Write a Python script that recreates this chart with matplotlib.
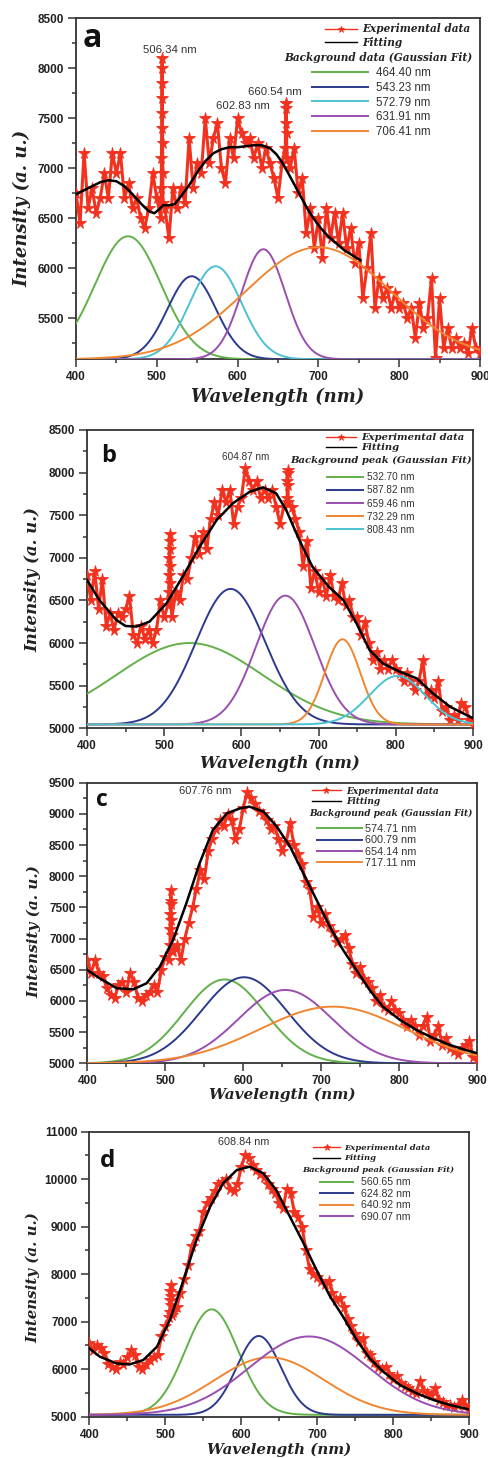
import numpy as np
import matplotlib
matplotlib.use("Agg")
import matplotlib.pyplot as plt
from matplotlib.ticker import MultipleLocator
from matplotlib.font_manager import FontProperties

# ---------------- data ----------------
grid = np.arange(400, 901, 5)

exp_a = [6750, 6450, 7150, 6600, 6800, 6550, 6700, 6950, 6700, 7150, 6950, 7150, 6700, 6850, 6600,
         6700, 6500, 6400, 6600, 6950, 6700, 6500, 6600, 6300, 6800, 6600, 6800, 6650, 7300, 6800,
         7050, 6950, 7500, 7050, 7300, 7450, 7000, 6850, 7300, 7100, 7500, 7350, 7250, 7300, 7100,
         7250, 7000, 7200, 7050, 6900, 6700, 7050, 7650, 7000, 7200, 6750, 6900, 6350, 6600, 6200,
         6500, 6100, 6600, 6300, 6550, 6250, 6550, 6200, 6400, 6050, 6250, 5700, 6000, 6350, 5600,
         5900, 5700, 5800, 5600, 5750, 5600, 5650, 5500, 5600, 5300, 5650, 5400, 5500, 5900, 5100,
         5700, 5200, 5400, 5200, 5300, 5200, 5250, 5150, 5400, 5200, 5150]
spike_a_x = [505.6, 505.8, 506.0, 506.2, 506.4, 506.6, 506.8, 507.0, 507.2, 507.4, 507.6,
             659.0, 659.4, 659.8, 660.2, 660.6, 661.0]
spike_a_y = [6800, 7100, 7400, 7700, 8000, 8100, 7850, 7550, 7250, 6950, 6650,
             7200, 7450, 7650, 7600, 7350, 7100]

exp_b = [6800, 6500, 6850, 6400, 6750, 6200, 6350, 6150, 6350, 6300, 6400, 6550, 6100, 6000, 6200,
         6050, 6150, 6000, 6150, 6500, 6300, 6450, 6300, 6600, 6500, 6800, 6750, 7000, 7250, 7050,
         7300, 7100, 7450, 7650, 7500, 7800, 7650, 7800, 7400, 7600, 7700, 8050, 7900, 7800, 7900,
         7700, 7800, 7700, 7800, 7600, 7400, 7600, 8000, 7600, 7450, 7300, 6900, 7200, 6650, 6850,
         6600, 6750, 6550, 6800, 6550, 6500, 6700, 6450, 6500, 6300, 6300, 6100, 6250, 6000, 5800,
         5900, 5700, 5800, 5700, 5800, 5700, 5650, 5550, 5650, 5550, 5450, 5550, 5800, 5400, 5450,
         5350, 5550, 5200, 5250, 5100, 5150, 5100, 5300, 5250, 5100, 5050]
spike_b_x = [506.0, 506.3, 506.6, 506.9, 507.2, 507.5, 507.8, 508.1, 508.4,
             659.2, 659.6, 660.0, 660.4, 660.8]
spike_b_y = [6600, 6800, 7000, 7200, 7280, 7100, 6900, 6700, 6500,
             7700, 7900, 8030, 7850, 7650]

exp_c = [6650, 6450, 6650, 6450, 6400, 6200, 6100, 6050, 6250, 6300, 6150, 6450, 6300, 6050, 6000,
         6100, 6150, 6250, 6150, 6500, 6700, 6650, 6800, 6900, 6650, 7000, 7250, 7500, 7800, 8100,
         7950, 8400, 8600, 8750, 8900, 8800, 9000, 8900, 8600, 8750, 9100, 9350, 9250, 9150, 9050,
         9000, 8900, 8750, 8800, 8600, 8400, 8550, 8850, 8500, 8350, 8200, 7900, 7800, 7350, 7500,
         7250, 7400, 7200, 7100, 6950, 7000, 7050, 6850, 6600, 6450, 6550, 6350, 6300, 6200, 6000,
         6100, 5900, 5850, 6000, 5850, 5800, 5700, 5600, 5700, 5600, 5450, 5600, 5750, 5350, 5450,
         5600, 5300, 5400, 5250, 5200, 5150, 5250, 5300, 5350, 5100, 5050]
spike_c_x = [506.0, 506.3, 506.6, 506.9, 507.2, 507.5, 507.8, 508.1, 508.4]
spike_c_y = [6900, 7150, 7400, 7600, 7780, 7550, 7300, 7050, 6800]

exp_d = [6550, 6400, 6500, 6450, 6350, 6100, 6050, 6000, 6150, 6100, 6250, 6400, 6300, 6050, 6000,
         6100, 6200, 6250, 6300, 6700, 6900, 7100, 7200, 7300, 7600, 7900, 8200, 8600, 8800, 8900,
         9300, 9500, 9600, 9750, 9900, 9950, 10000, 9800, 9750, 9900, 10250, 10500, 10450, 10300, 10200,
         10100, 10050, 9900, 9800, 9700, 9500, 9400, 9800, 9700, 9300, 9200, 9000, 8500, 8100, 8000,
         7950, 7850, 7800, 7850, 7600, 7450, 7500, 7300, 7050, 6900, 6750, 6600, 6650, 6350, 6300,
         6150, 6050, 6000, 6050, 5900, 5800, 5850, 5700, 5650, 5600, 5550, 5500, 5750, 5550, 5500,
         5450, 5600, 5350, 5300, 5250, 5250, 5200, 5250, 5350, 5250, 5150]
spike_d_x = [506.0, 506.4, 506.8, 507.2, 507.6, 508.0, 508.4]
spike_d_y = [7200, 7450, 7650, 7770, 7550, 7350, 7150]

fit_a_x = [400, 415, 430, 440, 450, 460, 470, 480, 490, 497, 503, 508, 515, 522, 530, 540, 550, 560,
           570, 580, 590, 600, 610, 620, 630, 640, 648, 655, 662, 670, 678, 686, 694, 702, 712, 722,
           732, 742, 752]
fit_a_y = [6740, 6800, 6860, 6880, 6870, 6820, 6740, 6650, 6570, 6550, 6590, 6630, 6630, 6640, 6720,
           6830, 6960, 7070, 7150, 7190, 7210, 7210, 7220, 7230, 7230, 7200, 7140, 7060, 6960, 6840,
           6720, 6600, 6500, 6410, 6320, 6250, 6180, 6130, 6080]
fit_b_x = [400, 416, 438, 450, 464, 481, 503, 524, 546, 568, 589, 611, 628, 645, 658, 675, 692, 713,
           732, 749, 766, 783, 805, 827, 848, 870, 900]
fit_b_y = [6740, 6505, 6270, 6200, 6193, 6251, 6466, 6779, 7131, 7444, 7640, 7776, 7827, 7757, 7561,
           7209, 6896, 6662, 6506, 6232, 5919, 5762, 5664, 5586, 5410, 5254, 5117]
fit_c_x = [400, 416, 438, 459, 476, 493, 510, 527, 544, 561, 579, 596, 608, 626, 643, 660, 677, 694,
           711, 728, 745, 762, 779, 801, 822, 844, 865, 885, 900]
fit_c_y = [6497, 6363, 6203, 6187, 6283, 6550, 6978, 7565, 8207, 8741, 9008, 9089, 9115, 9035, 8795,
           8474, 8046, 7619, 7191, 6817, 6497, 6176, 5909, 5695, 5535, 5401, 5294, 5214, 5161]
fit_d_x = [400, 414, 436, 453, 471, 489, 506, 524, 541, 559, 576, 594, 611, 629, 646, 664, 682, 699,
           717, 734, 752, 769, 787, 809, 831, 853, 875, 900]
fit_d_y = [6438, 6263, 6122, 6101, 6193, 6473, 7035, 7877, 8719, 9421, 9912, 10193, 10263, 10123, 9772,
           9210, 8649, 8088, 7526, 7105, 6614, 6228, 5947, 5666, 5491, 5351, 5245, 5154]

# Gaussian fit components: centre (nm), peak intensity, sigma (nm)
gauss_a_labels = ["464.40 nm", "543.23 nm", "572.79 nm", "631.91 nm", "706.41 nm"]
gauss_a_center = [464.4, 543.2, 572.8, 631.9, 700.0]
gauss_a_peak = [6320, 5920, 6020, 6190, 6210]
gauss_a_sigma = [41, 30, 32, 27, 90]
base_a = 5090

gauss_b_labels = ["532.70 nm", "587.82 nm", "659.46 nm", "732.29 nm", "808.43 nm"]
gauss_b_center = [532.7, 586.0, 657.0, 731.0, 802.0]
gauss_b_peak = [6000, 6635, 6556, 6044, 5614]
gauss_b_sigma = [95, 45, 38, 23, 36]
base_b = 5045

gauss_c_labels = ["574.71 nm", "600.79 nm", "654.14 nm", "717.11 nm"]
gauss_c_center = [576.0, 601.0, 654.0, 715.0]
gauss_c_peak = [6345, 6380, 6176, 5909]
gauss_c_sigma = [52, 55, 60, 93]
base_c = 5000

gauss_d_labels = ["560.65 nm", "624.82 nm", "640.92 nm", "690.07 nm"]
gauss_d_center = [561.0, 623.0, 637.0, 689.0]
gauss_d_peak = [7260, 6700, 6250, 6690]
gauss_d_sigma = [35, 29, 72, 78]
base_d = 5040

peak_labels = {"a": ["506.34 nm", "602.83 nm", "660.54 nm"], "b": ["604.87 nm"],
               "c": ["607.76 nm"], "d": ["608.84 nm"]}

# ---------------- style ----------------
GREEN, NAVY, CYAN, PURPLE, ORANGE = "#62b04a", "#2c3a8e", "#4cc2d2", "#9a4eb0", "#f08630"
RED = "#f2311f"
colors_a = [GREEN, NAVY, CYAN, PURPLE, ORANGE]
colors_b = [GREEN, NAVY, PURPLE, ORANGE, CYAN]
colors_c = [GREEN, NAVY, PURPLE, ORANGE]
colors_d = [GREEN, NAVY, ORANGE, PURPLE]

SERIF_BI = dict(family="DejaVu Serif", weight="bold", style="italic")

fig = plt.figure(figsize=(4.89, 14.58), dpi=100)

def merge(x, y, sx, sy):
    xx = np.concatenate([np.asarray(x, float), np.asarray(sx, float)])
    yy = np.concatenate([np.asarray(y, float), np.asarray(sy, float)])
    o = np.argsort(xx, kind="stable")
    return xx[o], yy[o]

def gauss(x, c, p, s, b):
    return b + (p - b) * np.exp(-(x - c) ** 2 / (2 * s ** 2))

xs = np.linspace(400, 900, 501)

panels = [
    dict(rect=[0.1554, 0.7536, 0.8262, 0.2339], ylim=(5090, 8500), ymin=250,
         yticks=np.arange(5500, 8501, 500), exp=exp_a, sx=spike_a_x, sy=spike_a_y,
         fx=fit_a_x, fy=fit_a_y, gl=gauss_a_labels, gc=gauss_a_center, gp=gauss_a_peak,
         gs=gauss_a_sigma, base=base_a, cols=colors_a, letter="a", letter_pos=(0.041, 0.917), letter_fs=23,
         title="Background data (Gaussian Fit)", title_pos=(0.748, 0.884),
         ann=[(516, 8183), (606, 7620), (646, 7760)], ann_fs=8.2,
         lab_fs=13, ylab=(-0.110, 0.441), xlab_y=-0.084,
         leg1=(0.616, 0.985, 7.6, 0.25, 3.0), leg2=(0.583, 0.857, 8.3, 0.24, 4.9, 0.73)),
    dict(rect=[0.1779, 0.5005, 0.7894, 0.2046], ylim=(5000, 8500), ymin=250,
         yticks=np.arange(5000, 8501, 500), exp=exp_b, sx=spike_b_x, sy=spike_b_y,
         fx=fit_b_x, fy=fit_b_y, gl=gauss_b_labels, gc=gauss_b_center, gp=gauss_b_peak,
         gs=gauss_b_sigma, base=base_b, cols=colors_b, letter="b", letter_pos=(0.057, 0.894), letter_fs=17,
         title="Background peak (Gaussian Fit)", title_pos=(0.763, 0.897),
         ann=[(605.5, 8180)], ann_fs=7.2,
         lab_fs=12, ylab=(-0.117, 0.5), xlab_y=-0.09,
         leg1=(0.62, 0.989, 7.2, 0.12, 3.0), leg2=(0.621, 0.858, 7.2, 0.31, 3.6, 0.4)),
    dict(rect=[0.1785, 0.2707, 0.7975, 0.1925], ylim=(5000, 9500), ymin=250,
         yticks=np.arange(5000, 9501, 500), exp=exp_c, sx=spike_c_x, sy=spike_c_y,
         fx=fit_c_x, fy=fit_c_y, gl=gauss_c_labels, gc=gauss_c_center, gp=gauss_c_peak,
         gs=gauss_c_sigma, base=base_c, cols=colors_c, letter="c", letter_pos=(0.037, 0.918), letter_fs=16.5,
         title="Background peak (Gaussian Fit)", title_pos=(0.779, 0.891),
         ann=[(551, 9370)], ann_fs=8.0,
         lab_fs=11, ylab=(-0.117, 0.469), xlab_y=-0.088,
         leg1=(0.575, 0.986, 6.5, 0.18, 3.3), leg2=(0.589, 0.853, 7.8, 0.13, 4.2, 0.2)),
    dict(rect=[0.1826, 0.0283, 0.7771, 0.1955], ylim=(5000, 11000), ymin=500,
         yticks=np.arange(5000, 11001, 1000), exp=exp_d, sx=spike_d_x, sy=spike_d_y,
         fx=fit_d_x, fy=fit_d_y, gl=gauss_d_labels, gc=gauss_d_center, gp=gauss_d_peak,
         gs=gauss_d_sigma, base=base_d, cols=colors_d, letter="d", letter_pos=(0.049, 0.877), letter_fs=17.5,
         title="Background peak (Gaussian Fit)", title_pos=(0.761, 0.866),
         ann=[(602.6, 10790)], ann_fs=7.8,
         lab_fs=10.8, ylab=(-0.130, 0.487), xlab_y=-0.092,
         leg1=(0.59, 0.956, 6.0, 0.27, 3.2), leg2=(0.607, 0.840, 7.6, 0.15, 3.1, 0.8)),
]

for P in panels:
    ax = fig.add_axes(P["rect"])
    x, y = merge(grid, P["exp"], P["sx"], P["sy"])
    exp_line, = ax.plot(x, y, color=RED, lw=2.2, marker="*", ms=8.5, mec=RED, mfc=RED,
                        mew=0.6, zorder=3)
    ghandles = []
    for c, p, s, col in zip(P["gc"], P["gp"], P["gs"], P["cols"]):
        h, = ax.plot(xs, gauss(xs, c, p, s, P["base"]), color=col, lw=1.4, zorder=4)
        ghandles.append(h)
    fit_line, = ax.plot(P["fx"], P["fy"], color="black", lw=1.8, zorder=5)

    ax.set_xlim(400, 900)
    ax.set_ylim(*P["ylim"])
    ax.set_xticks(np.arange(400, 901, 100))
    ax.set_yticks(P["yticks"])
    ax.xaxis.set_minor_locator(MultipleLocator(50))
    ax.yaxis.set_minor_locator(MultipleLocator(P["ymin"]))
    ax.tick_params(which="both", direction="out", top=False, right=False, color="#333333", width=1.1)
    ax.tick_params(which="major", length=5.5, pad=3)
    ax.tick_params(which="minor", length=3)
    for lab in ax.get_xticklabels() + ax.get_yticklabels():
        lab.set_fontfamily("Liberation Sans")
        lab.set_fontweight("bold")
        lab.set_fontsize(8.5)
        lab.set_color("#222222")
    for sp in ax.spines.values():
        sp.set_color("#333333")
        sp.set_linewidth(1.3)

    ax.set_xlabel("Wavelength (nm)", fontsize=P["lab_fs"], color="#222222", **SERIF_BI)
    ax.set_ylabel("Intensity (a. u.)", fontsize=P["lab_fs"], color="#222222", **SERIF_BI)
    ax.xaxis.set_label_coords(0.5, P["xlab_y"])
    ax.yaxis.set_label_coords(*P["ylab"])

    ax.text(*P["letter_pos"], P["letter"], transform=ax.transAxes, fontsize=P["letter_fs"],
            fontweight="bold", family="Open Sans", ha="center", va="baseline", color="#111111",
            zorder=6)
    for (ax_, ay_), t in zip(P["ann"], peak_labels[P["letter"]]):
        ax.text(ax_, ay_, t, fontsize=P["ann_fs"], family="Liberation Sans", ha="center",
                va="center", color="#333333", zorder=6)

    lx, ly, lfs, lsp, hl = P["leg1"]
    leg1 = ax.legend([exp_line, fit_line], ["Experimental data", "Fitting"], loc="upper left",
                     bbox_to_anchor=(lx, ly), frameon=False, borderpad=0, borderaxespad=0,
                     handlelength=hl, handletextpad=0.5, labelspacing=lsp, numpoints=1,
                     prop=FontProperties(family="DejaVu Serif", weight="bold", style="italic", size=lfs))
    for t in leg1.get_texts():
        t.set_color("#222222")
    for lh in leg1.legend_handles:
        lh.set_markersize(5)
        lh.set_linewidth(1.0)
    ax.add_artist(leg1)

    ax.text(*P["title_pos"], P["title"], transform=ax.transAxes, ha="center", va="center",
            fontsize=lfs, color="#222222", **SERIF_BI)

    gx, gy, gfs, gsp, ghl, gpad = P["leg2"]
    leg2 = ax.legend(ghandles, P["gl"], loc="upper left", bbox_to_anchor=(gx, gy), frameon=False,
                     borderpad=0, borderaxespad=0, handlelength=ghl, handletextpad=gpad,
                     labelspacing=gsp, prop=FontProperties(family="Liberation Sans", size=gfs))
    for t in leg2.get_texts():
        t.set_color("#333333")

fig.savefig("out.png", dpi=100)
